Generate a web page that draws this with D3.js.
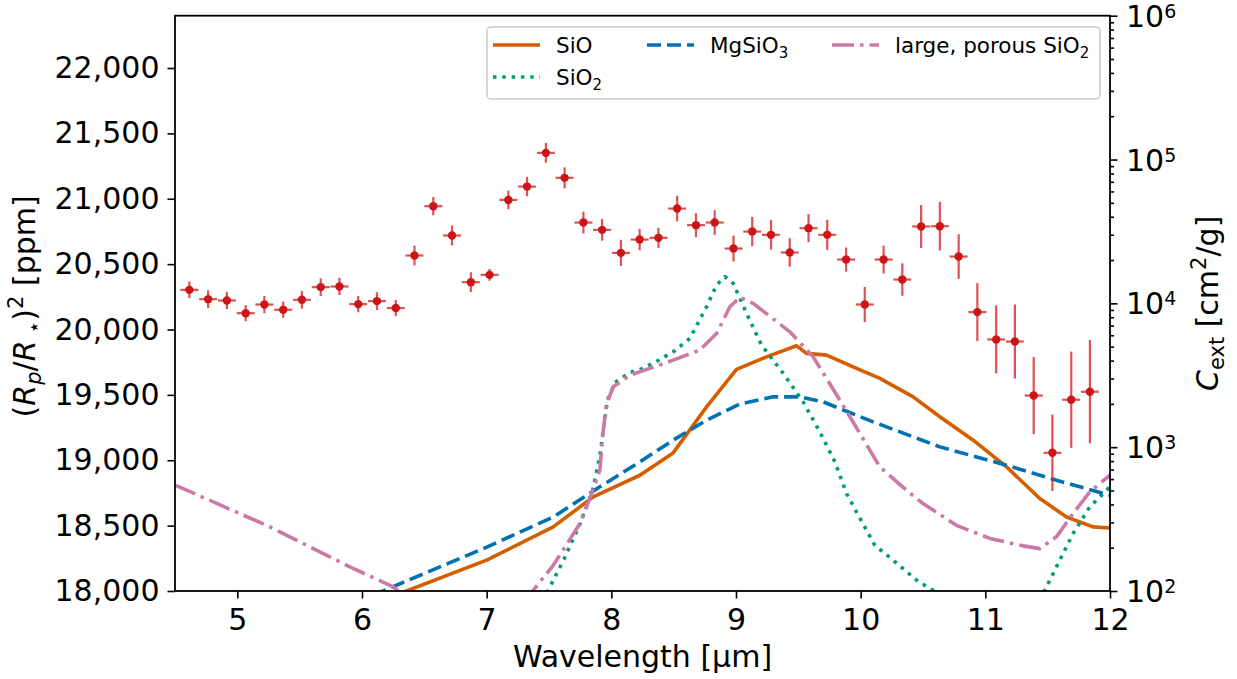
<!DOCTYPE html>
<html>
<head>
<meta charset="utf-8">
<script src="https://cdn.jsdelivr.net/npm/d3@7"></script>
<style>
  html, body { margin: 0; padding: 0; background: #fff; }
  svg { display: block; font-family: "DejaVu Sans", sans-serif; }
</style>
</head>
<body>
<svg id="chart" width="1237" height="679"></svg>
<script>
// ---------------- data ----------------
const wavelength = [4.615, 4.766, 4.916, 5.067, 5.217, 5.368, 5.518, 5.669, 5.819, 5.970,
  6.120, 6.271, 6.421, 6.572, 6.722, 6.873, 7.023, 7.174, 7.324, 7.475,
  7.625, 7.776, 7.926, 8.077, 8.227, 8.378, 8.528, 8.679, 8.829, 8.980,
  9.130, 9.281, 9.431, 9.582, 9.732, 9.883, 10.033, 10.184, 10.334, 10.485,
  10.635, 10.786, 10.936, 11.087, 11.237, 11.388, 11.538, 11.689, 11.839];
const depth = [20303, 20232, 20222, 20125, 20191, 20151, 20227, 20324, 20329, 20194,
  20217, 20164, 20566, 20943, 20719, 20362, 20418, 20991, 21093, 21351,
  21160, 20818, 20762, 20586, 20688, 20701, 20925, 20798, 20818, 20619,
  20749, 20724, 20589, 20775, 20724, 20535, 20191, 20535, 20382, 20788,
  20790, 20558, 20133, 19924, 19908, 19495, 19057, 19463, 19524];
const depthErr = [64, 68, 66, 62, 66, 62, 68, 68, 66, 62,
  68, 62, 75, 70, 76, 76, 45, 71, 74, 76,
  80, 83, 83, 100, 82, 77, 98, 92, 94, 99,
  112, 113, 109, 108, 115, 92, 134, 107, 124, 164,
  186, 171, 222, 260, 283, 294, 292, 368, 395];
const wlErr = 0.072;

const sioWl = [6.1, 6.331, 7.0, 7.534, 7.855, 8.229, 8.496, 8.764, 9.004, 9.245, 9.485, 9.565, 9.726, 9.967, 10.154, 10.421, 10.635, 10.903, 11.17, 11.437, 11.651, 11.864, 12.0];
const sioC  = [71, 98, 164, 279, 451, 638, 912, 1905, 3475, 4246, 5070, 4487, 4365, 3532, 3006, 2239, 1626, 1119, 729, 440, 327, 279, 274];

const sio2Wl = [7.45, 7.52, 7.62, 7.75, 7.85, 7.91, 7.94, 7.97, 8.03, 8.15, 8.229, 8.35, 8.496, 8.63, 8.764, 8.844, 8.911, 8.978, 9.085, 9.205, 9.379, 9.539, 9.673, 9.793, 9.887, 9.98, 10.114, 10.26, 10.448, 10.58, 10.75, 11.35, 11.477, 11.57, 11.704, 11.838, 12.0];
const sio2C  = [85, 112, 166, 295, 501, 891, 1413, 2138, 2818, 3311, 3467, 3890, 4603, 5702, 9462, 13397, 15311, 13772, 8511, 5129, 3258, 2065, 1276, 791, 476, 337, 208, 164, 119, 101, 76, 71, 101, 147, 251, 385, 530];

const mgsio3Wl = [5.95, 6.144, 6.972, 7.534, 7.908, 8.229, 8.496, 8.764, 9.031, 9.298, 9.512, 9.699, 10.1, 10.635, 11.17, 11.57, 12.0];
const mgsio3C  = [79, 98, 197, 327, 530, 791, 1119, 1542, 1995, 2239, 2239, 2065, 1500, 1005, 750, 589, 463];

const porousWl = [4.5, 5.235, 5.903, 6.25, 6.4, 7.3, 7.373, 7.534, 7.748, 7.842, 7.908, 7.935, 7.962, 8.015, 8.149, 8.229, 8.309, 8.496, 8.71, 8.844, 8.951, 9.031, 9.138, 9.432, 9.619, 9.833, 9.994, 10.154, 10.368, 10.5, 10.769, 11.036, 11.303, 11.437, 11.57, 11.704, 11.838, 12.0];
const porousC  = [545, 286, 147, 107, 85, 85, 101, 151, 294, 476, 692, 1312, 1995, 2630, 3162, 3342, 3532, 4027, 4732, 6166, 9462, 11015, 10000, 6339, 4246, 2123, 1245, 729, 501, 406, 286, 232, 206, 197, 238, 346, 489, 638];

const xTicks = [5, 6, 7, 8, 9, 10, 11, 12];
const yTicks = [18000, 18500, 19000, 19500, 20000, 20500, 21000, 21500, 22000];
const rTicks = [2, 3, 4, 5, 6];

// ---------------- layout ----------------
const svg = d3.select("#chart");
const L = 175, R = 1110, T = 15.7, B = 591;
const x = d3.scaleLinear().domain([4.5, 12]).range([L, R]);
const y = d3.scaleLinear().domain([18000, 22400]).range([B, T]);
const yr = d3.scaleLog().domain([100, 1e6]).range([B, T]);

svg.append("defs").append("clipPath").attr("id", "clip")
  .append("rect").attr("x", L).attr("y", T).attr("width", R - L).attr("height", B - T);

const fs = 30;

// x axis
const gx = svg.append("g").attr("transform", `translate(0,${B})`)
  .call(d3.axisBottom(x).tickValues(xTicks).tickSize(7.5).tickPadding(10).tickFormat(d3.format("d")));
// left axis
const gy = svg.append("g").attr("transform", `translate(${L},0)`)
  .call(d3.axisLeft(y).tickValues(yTicks).tickSize(7.5).tickPadding(8).tickFormat(d3.format(",")));
// right axis: majors + minors
const minors = [];
for (let e = 2; e < 6; e++) for (let m = 2; m <= 9; m++) minors.push(m * Math.pow(10, e));
const gr = svg.append("g").attr("transform", `translate(${R},0)`)
  .call(d3.axisRight(yr).tickValues(rTicks.map(e => Math.pow(10, e))).tickSize(7.5).tickFormat(() => ""));
const grm = svg.append("g").attr("transform", `translate(${R},0)`)
  .call(d3.axisRight(yr).tickValues(minors).tickSize(4).tickFormat(() => ""));

[gx, gy, gr, grm].forEach(g => {
  g.select(".domain").remove();
  g.selectAll("line").attr("stroke", "#000").attr("stroke-width", 1.6);
  g.selectAll("text").attr("font-size", fs).attr("font-family", "DejaVu Sans").attr("fill", "#000");
});

// right tick labels with superscript
rTicks.forEach(e => {
  const t = svg.append("text").attr("x", R + 16).attr("y", yr(Math.pow(10, e)) + 11)
    .attr("font-size", fs).attr("fill", "#000");
  t.append("tspan").text("10");
  t.append("tspan").attr("dy", -9).attr("font-size", 19).text(String(e));
});

// ---------------- curves ----------------
const curves = [
  {wl: sioWl, c: sioC, color: "#d55e00", dash: null},
  {wl: sio2Wl, c: sio2C, color: "#009e73", dash: "3.5,5.8"},
  {wl: mgsio3Wl, c: mgsio3C, color: "#0072b2", dash: "14,6"},
  {wl: porousWl, c: porousC, color: "#cc79a7", dash: "22,6,3.5,6"}
];
const cg = svg.append("g").attr("clip-path", "url(#clip)");
curves.forEach(cv => {
  const line = d3.line().x(i => x(cv.wl[i])).y(i => yr(cv.c[i]));
  cg.append("path").attr("d", line(d3.range(cv.wl.length)))
    .attr("fill", "none").attr("stroke", cv.color).attr("stroke-width", 3.6)
    .attr("stroke-dasharray", cv.dash).attr("stroke-linejoin", "round");
});

// ---------------- data points ----------------
const dg = svg.append("g").attr("clip-path", "url(#clip)");
const red = "#d62728";
wavelength.forEach((w, i) => {
  dg.append("line").attr("x1", x(w)).attr("x2", x(w))
    .attr("y1", y(depth[i] - depthErr[i])).attr("y2", y(depth[i] + depthErr[i]))
    .attr("stroke", red).attr("stroke-width", 2.2).attr("opacity", 0.8);
  dg.append("line").attr("x1", x(w - wlErr)).attr("x2", x(w + wlErr))
    .attr("y1", y(depth[i])).attr("y2", y(depth[i]))
    .attr("stroke", red).attr("stroke-width", 2.2).attr("opacity", 0.8);
  dg.append("circle").attr("cx", x(w)).attr("cy", y(depth[i])).attr("r", 4.2).attr("fill", "#cc1518");
});

// frame
svg.append("rect").attr("x", L).attr("y", T).attr("width", R - L).attr("height", B - T)
  .attr("fill", "none").attr("stroke", "#000").attr("stroke-width", 1.8);

// ---------------- legend ----------------
const lfs = 21.5;
const lg = svg.append("g");
lg.append("rect").attr("x", 487).attr("y", 27).attr("width", 613).attr("height", 72)
  .attr("rx", 4).attr("fill", "#fff").attr("fill-opacity", 0.8).attr("stroke", "#ccc").attr("stroke-width", 1.5);
const legItems = [
  {x: 493, y: 45, i: 0, label: ["SiO", ""]},
  {x: 493, y: 77, i: 1, label: ["SiO", "2"]},
  {x: 647, y: 45, i: 2, label: ["MgSiO", "3"]},
  {x: 832, y: 45, i: 3, label: ["large, porous SiO", "2"]}
];
legItems.forEach(it => {
  const cv = curves[it.i];
  lg.append("line").attr("x1", it.x).attr("x2", it.x + 47).attr("y1", it.y).attr("y2", it.y)
    .attr("stroke", cv.color).attr("stroke-width", 3.6).attr("stroke-dasharray", cv.dash);
  const t = lg.append("text").attr("x", it.x + 63).attr("y", it.y + 8).attr("font-size", lfs).attr("fill", "#000");
  t.append("tspan").text(it.label[0]);
  if (it.label[1]) t.append("tspan").attr("dy", 5).attr("font-size", 15).text(it.label[1]);
});

// ---------------- axis labels ----------------
const midY = (T + B) / 2;
svg.append("text").attr("x", (L + R) / 2).attr("y", 667).attr("text-anchor", "middle")
  .attr("font-size", fs).attr("fill", "#000").text("Wavelength [µm]");

const ly = svg.append("text").attr("transform", `translate(35,${midY + 3}) rotate(-90)`)
  .attr("text-anchor", "middle").attr("font-size", fs).attr("fill", "#000");
ly.append("tspan").text("(");
ly.append("tspan").attr("font-style", "italic").text("R");
ly.append("tspan").attr("font-style", "italic").attr("font-size", 21).attr("dy", 6).text("p");
ly.append("tspan").attr("dy", -6).text("/");
ly.append("tspan").attr("font-style", "italic").text("R");
ly.append("tspan").attr("font-size", 21).attr("dy", 6).text(" ⋆");
ly.append("tspan").attr("dy", -6).text(")");
ly.append("tspan").attr("font-size", 21).attr("dy", -12).text("2");
ly.append("tspan").attr("dy", 12).text(" [ppm]");

const lr = svg.append("text").attr("transform", `translate(1218,${midY}) rotate(-90)`)
  .attr("text-anchor", "middle").attr("font-size", fs).attr("fill", "#000");
lr.append("tspan").attr("font-style", "italic").text("C");
lr.append("tspan").attr("font-size", 21).attr("dy", 6).text("ext");
lr.append("tspan").attr("dy", -6).text(" [cm");
lr.append("tspan").attr("font-size", 21).attr("dy", -12).text("2");
lr.append("tspan").attr("dy", 12).text("/g]");
</script>
</body>
</html>
